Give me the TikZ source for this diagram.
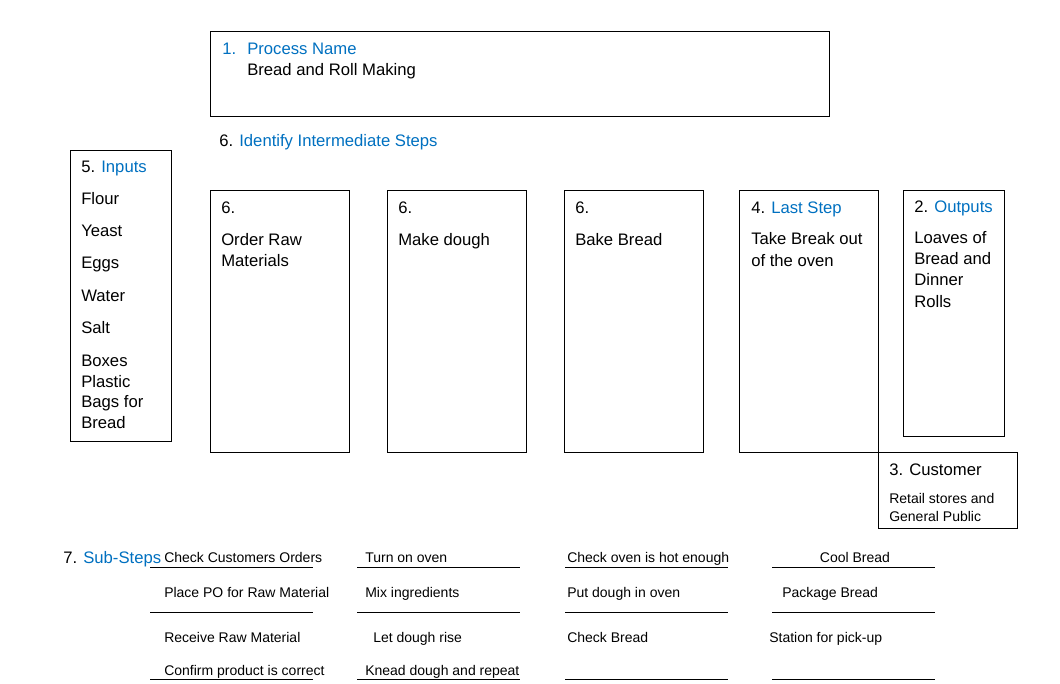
\documentclass[tikz,border=0pt]{standalone}
\usepackage{fontspec}
\setmainfont{Liberation Sans}
\definecolor{stepblue}{RGB}{0,112,192}
\tikzset{
  box/.style={draw, line width=0.75pt},
  txt/.style={anchor=base west, inner sep=0pt, yshift=-0.75pt, font=\fontsize{12.5}{15}\selectfont},
  small/.style={anchor=base west, inner sep=0pt, yshift=-0.5pt, font=\fontsize{10.5}{13}\selectfont},
  blank/.style={line width=0.75pt}
}
\begin{document}
\begin{tikzpicture}[x=0.75pt,y=-0.75pt]
	\useasboundingbox (0,0) rectangle (1060,684);
	\def\top{191}
	\def\bot{452}
	%
	% process name
	\draw[box] (210,32) rectangle (829,117);
	\node[txt, text=stepblue] (pnum) at (222,54) {1.};
	\node[txt, text=stepblue] (pname) at (247,54) {Process Name};
	\node[txt] (pval) at (247,75) {Bread and Roll Making};
	\node[txt] (mid) at (219,146) {6. \textcolor{stepblue}{Identify Intermediate Steps}};
	%
	% inputs
	\draw[box] (70,151) rectangle (171,441);
	\node[txt] (inhead) at (81,172) {5. \textcolor{stepblue}{Inputs}};
	\foreach \y/\t [count=\i] in {204/Flour, 236/Yeast, 268/Eggs, 300/Water, 332/Salt, 365/Boxes, 386/Plastic, 406/Bags for, 427/Bread}
		\node[txt] (in\i) at (81,\y) {\t};
	%
	% intermediate steps
	\foreach \x/\n in {210/order, 387/dough, 564/bake}{
		\draw[box] (\x,\top) rectangle ({\x+139},\bot);
		\node[txt] (\n-num) at ({\x+11},213) {6.};
	}
	\node[txt] (order-a) at (221,245) {Order Raw};
	\node[txt] (order-b) at (221,266) {Materials};
	\node[txt] (dough-a) at (398,245) {Make dough};
	\node[txt] (bake-a) at (575,245) {Bake Bread};
	%
	% last step
	\draw[box] (739,\top) rectangle (878,\bot);
	\node[txt] (last) at (751,213) {4. \textcolor{stepblue}{Last Step}};
	\node[txt] (last-a) at (751,244) {Take Break out};
	\node[txt] (last-b) at (751,266) {of the oven};
	%
	% outputs
	\draw[box] (903,\top) rectangle (1004,436);
	\node[txt] (out) at (914,212) {2. \textcolor{stepblue}{Outputs}};
	\foreach \y/\t [count=\i] in {243/Loaves of, 264/Bread and, 285/Dinner, 306/Rolls}
		\node[txt] (out\i) at (914,\y) {\t};
	%
	% customer
	\draw[box] (878,\bot) rectangle (1017,528);
	\node[txt] (cust) at (889,474) {3. Customer};
	\node[small] (cust-a) at (889,503) {Retail stores and};
	\node[small] (cust-b) at (889,521) {General Public};
	%
	% sub-steps
	\node[txt] (sub) at (63,562) {7. \textcolor{stepblue}{Sub-Steps}};
	\foreach \x in {150,357,565,772}
		\foreach \y in {567,612,679}
			\draw[blank] (\x,\y) -- ++(163,0);
	\foreach \x/\y/\t [count=\i] in {164/562/Check Customers Orders, 164/597/Place PO for Raw Material, 164/642/Receive Raw Material, 164/675/Confirm product is correct}
		\node[small] (sa\i) at (\x,\y) {\t};
	\foreach \x/\y/\t [count=\i] in {365/562/Turn on oven, 365/597/Mix ingredients, 373/642/Let dough rise, 365/675/Knead dough and repeat}
		\node[small] (sb\i) at (\x,\y) {\t};
	\foreach \x/\y/\t [count=\i] in {567/562/Check oven is hot enough, 567/597/Put dough in oven, 567/642/Check Bread}
		\node[small] (sc\i) at (\x,\y) {\t};
	\node[small, anchor=base] (sd1) at (855,562) {Cool Bread};
	\node[small] (sd2) at (782,597) {Package Bread};
	\node[small] (sd3) at (769,642) {Station for pick-up};
\end{tikzpicture}
\end{document}
